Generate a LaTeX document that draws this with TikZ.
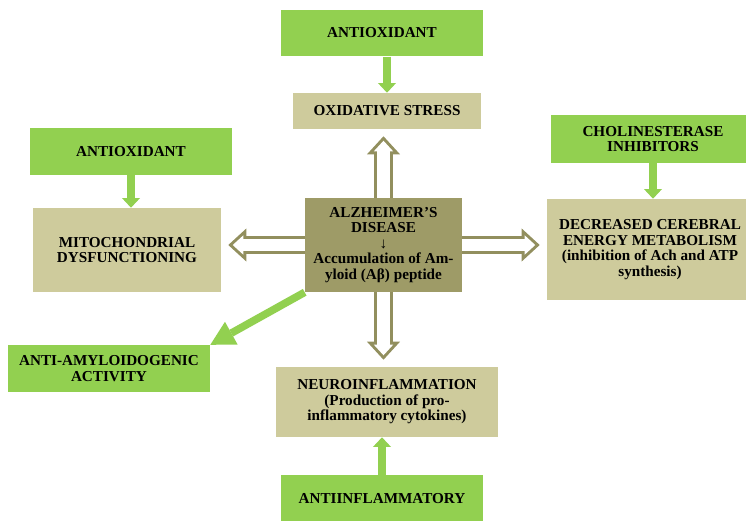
\documentclass[tikz,border=0pt]{standalone}
\usepackage{fontspec}
\setmainfont{Liberation Serif}
\usetikzlibrary{arrows.meta}
\definecolor{leaf}{RGB}{146,208,80}
\definecolor{sand}{RGB}{206,203,156}
\definecolor{moss}{RGB}{158,155,103}
\definecolor{rim}{RGB}{146,143,94}

\begin{document}
\begin{tikzpicture}[
    x=0.025cm, y=-0.025cm,
    every node/.style={font=\bfseries\fontsize{10.8}{11}\selectfont, align=center, inner sep=0pt},
    remedy/.style={fill=leaf, minimum width=5.05cm, minimum height=1.17cm},
    effect/.style={fill=sand},
    core/.style={fill=moss, minimum width=3.925cm, minimum height=2.35cm},
    treat/.style={draw=leaf, line width=0.2cm, -{Triangle[width=0.45cm, length=0.24cm, line width=0pt]}},
    hollow/.style={draw=white, line width=0.3cm, shorten >=0.286cm,
        -{Triangle[width=0.484cm, length=0.264cm, line width=0pt]},
        preaction={draw=rim, line width=0.45cm, shorten >=0.175cm,
            -{Triangle[width=0.825cm, length=0.45cm, line width=0pt]}}}
]
\useasboundingbox (0,0) rectangle (746,521);
\clip (0,0) rectangle (746,521);

\node[remedy] (antioxtop) at (382,33) {ANTIOXIDANT};
\node[effect, minimum width=4.7cm, minimum height=0.9cm] (stress) at (387,111) {OXIDATIVE STRESS};
\node[remedy] (antioxleft) at (131,151.5) {ANTIOXIDANT};
\node[effect, minimum width=4.7cm, minimum height=2.1cm] (mito) at (127,250) {MITOCHONDRIAL\\DYSFUNCTIONING};
\node[core] (core) at (383.5,245) {ALZHEIMER’S\\DISEASE\\{\mdseries ↓}\\Accumulation of Am-\\yloid (Aβ) peptide};
\node[remedy, minimum width=5.1cm, minimum height=1.2cm] (chol) at (653,139) {CHOLINESTERASE\\INHIBITORS};
\node[effect, minimum width=5.15cm, minimum height=2.525cm] (energy) at (650,249.5) {DECREASED CEREBRAL\\ENERGY METABOLISM\\(inhibition of Ach and ATP\\synthesis)};
\node[remedy] (amyloid) at (109,368.5) {ANTI-AMYLOIDOGENIC\\ACTIVITY};
\node[effect, minimum width=5.55cm, minimum height=1.75cm] (neuro) at (387,402) {NEUROINFLAMMATION\\(Production of pro-\\inflammatory cytokines)};
\node[remedy] (antiinf) at (382,498.5) {ANTIINFLAMMATORY};

% treatments
\draw[treat] (stress.north |- antioxtop.south) -- (stress.north);
\draw[treat] (antioxleft.south) -- (antioxleft.south |- mito.north);
\draw[treat] (chol.south) -- (chol.south |- energy.north);
\draw[treat] (antiinf.north) -- (antiinf.north |- neuro.south);
\draw[treat, line width=0.19cm, -{Triangle[width=0.65cm, length=0.6cm, line width=0pt]}] (core.south west) -- (amyloid.north east);

% consequences
\draw[hollow] (core.north) -- (core.north |- stress.south);
\draw[hollow] (core.west) -- (core.west -| mito.east);
\draw[hollow] (core.east) -- (core.east -| energy.west);
\draw[hollow] (core.south) -- (core.south |- neuro.north);
\end{tikzpicture}
\end{document}
